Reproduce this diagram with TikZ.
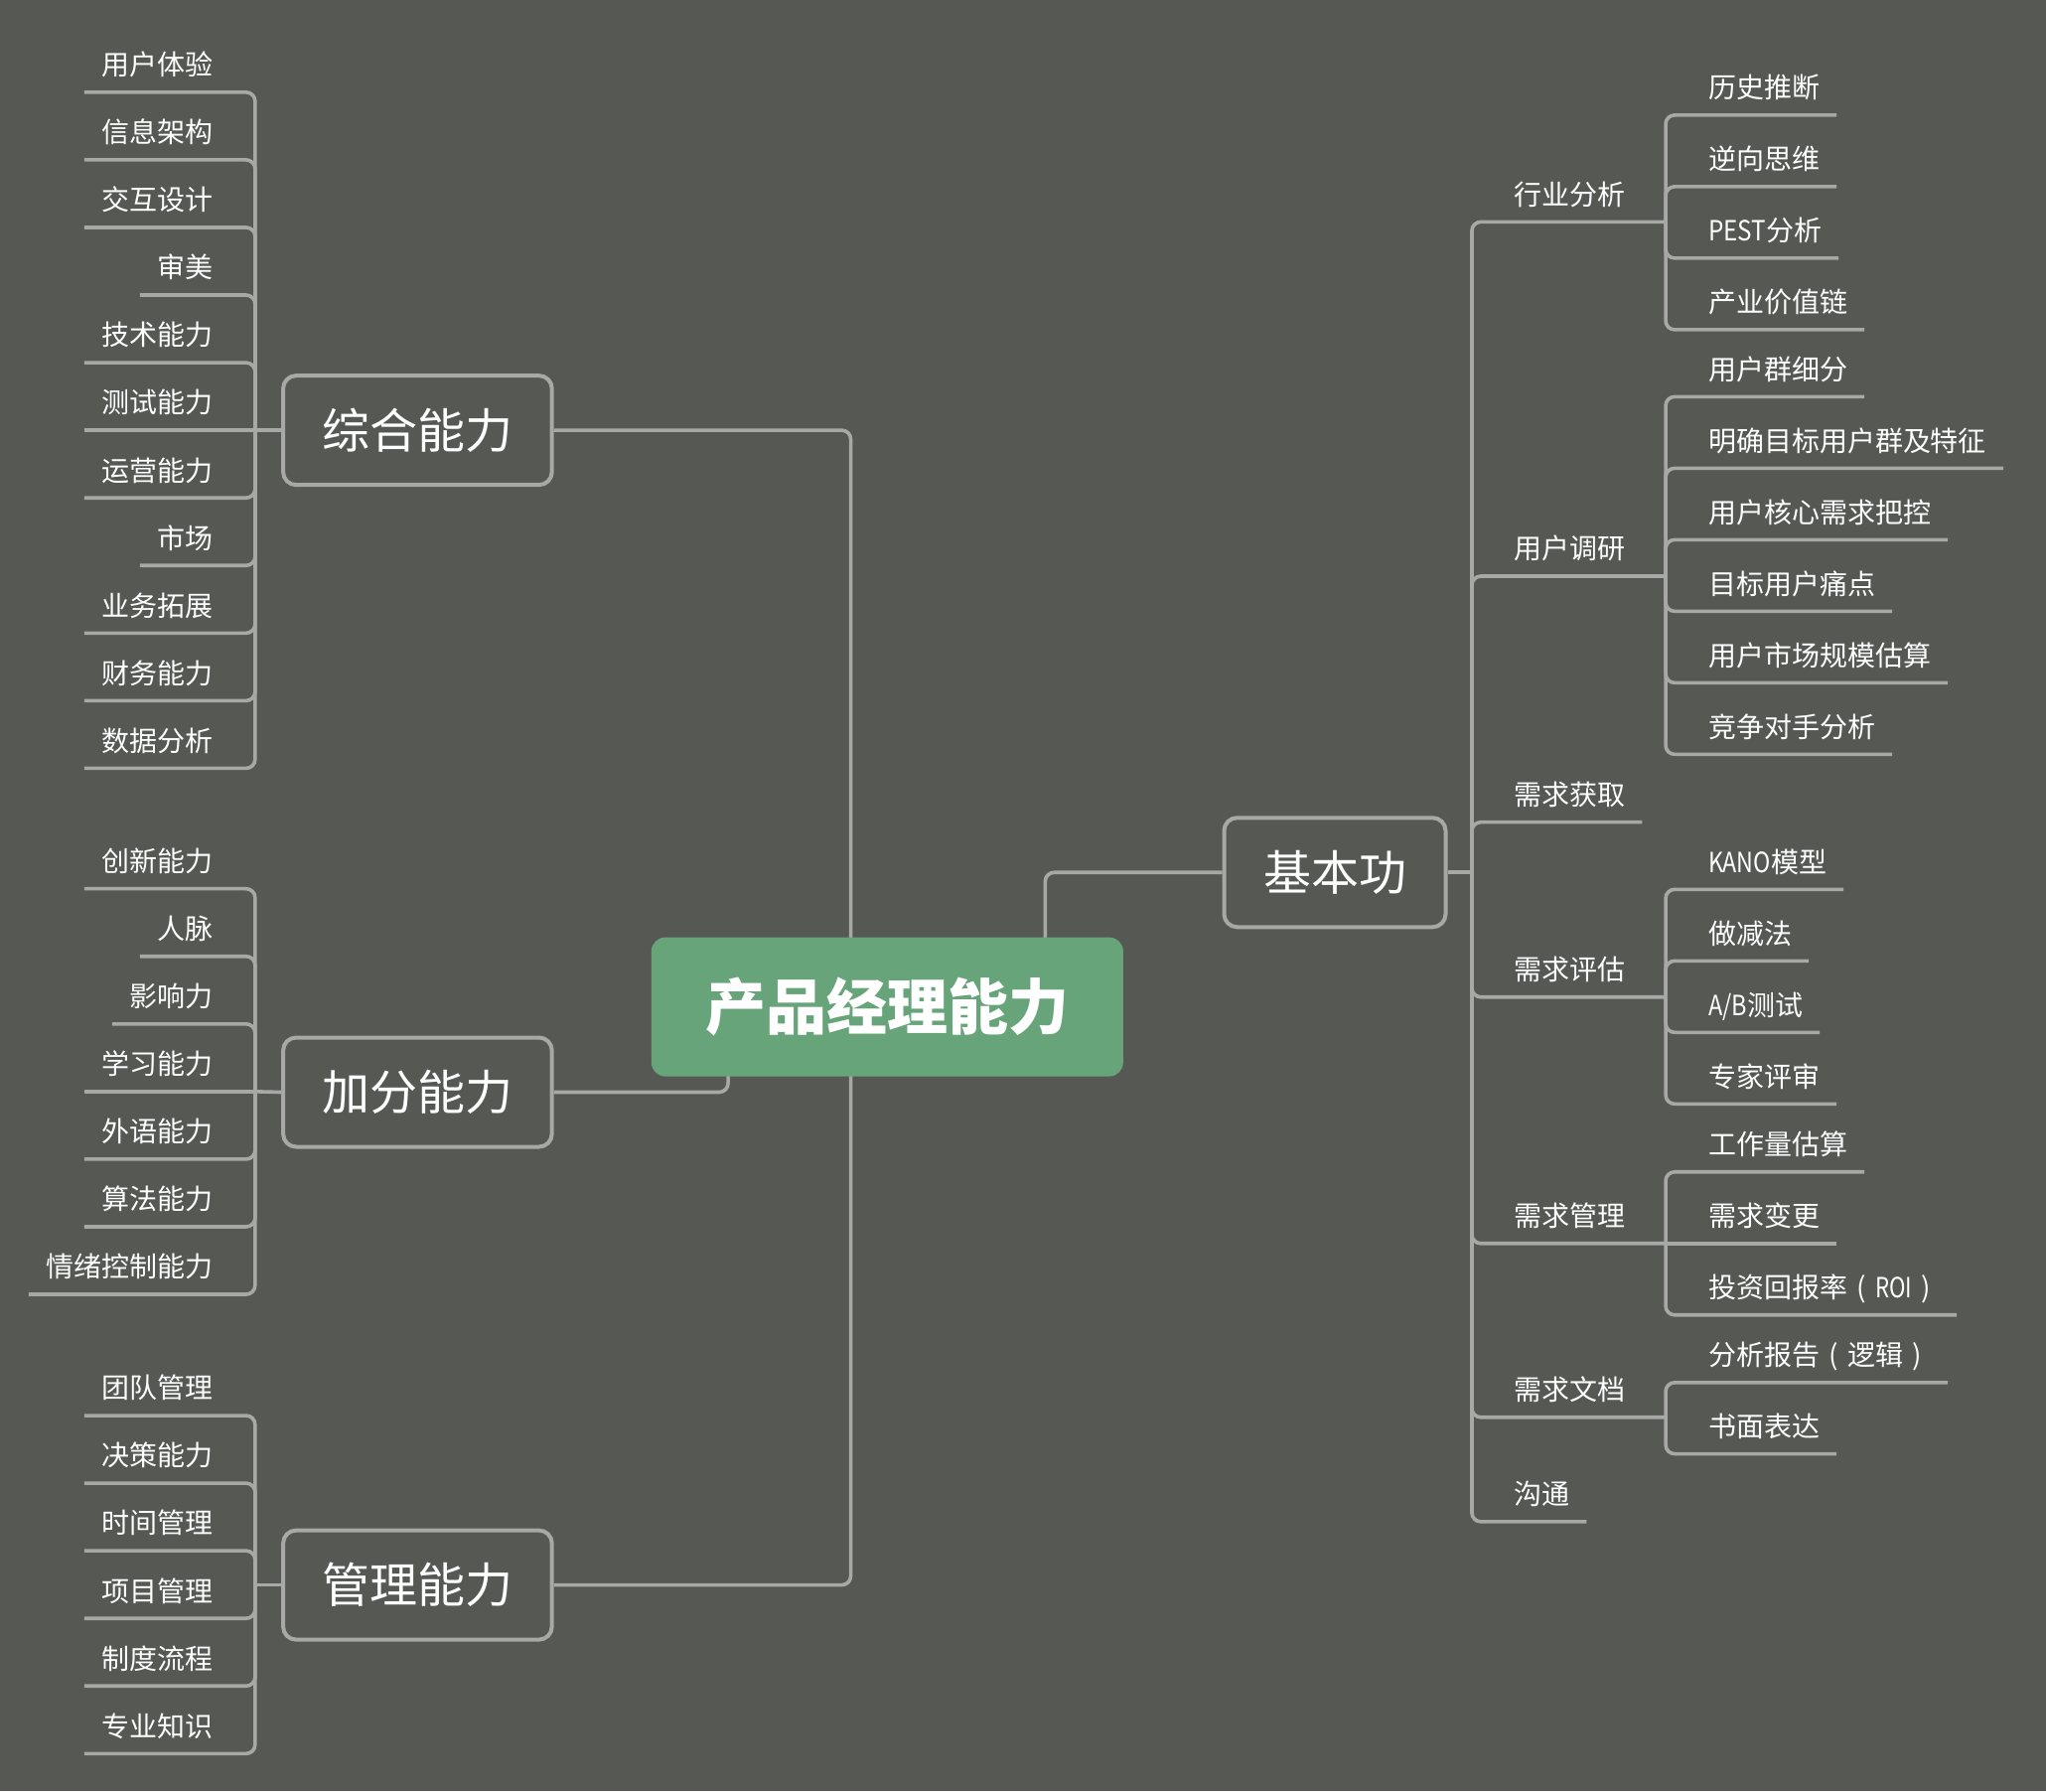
\documentclass[tikz,border=0pt]{standalone}
\usepackage{fontspec}
\usepackage{graphicx}
\setmainfont{Noto Sans CJK SC}
\usetikzlibrary{calc}
\definecolor{bgc}{RGB}{86,88,84}
\definecolor{linec}{RGB}{168,169,166}
\definecolor{rootc}{RGB}{103,164,122}
\definecolor{txt}{RGB}{255,255,255}
\pgfdeclarelayer{bg}
\pgfsetlayers{bg,main}
\newcommand{\fitw}[2]{\resizebox{#1}{\height}{#2}}
\newcommand{\cpar}[1]{\makebox[1em]{#1}}
\tikzset{
  conn/.style={draw=linec, line width=3.6pt, rounded corners=9pt},
  leaf/.style={font=\fontsize{28}{28}\selectfont, text=txt, inner xsep=17pt, inner ysep=0pt, text depth=17pt},
  leafR/.style={leaf, anchor=south west},
  leafL/.style={leaf, anchor=south east},
  box/.style={draw=linec, line width=4pt, rounded corners=13pt, font=\fontsize{48}{48}\selectfont, text=txt, minimum height=110pt, inner sep=0pt},
  rootbox/.style={fill=rootc, rounded corners=14pt, minimum width=475pt, minimum height=140pt, inner sep=0pt, font=\bfseries\fontsize{61}{61}\selectfont, text=txt}
}
\begin{document}
\begin{tikzpicture}[x=1.3138pt,y=-1.3138pt]
\begin{pgfonlayer}{bg}
\fill[bgc] (0,0) rectangle (1568,1372.4);
\end{pgfonlayer}
\useasboundingbox (0,0) rectangle (1568,1372.4);

% main nodes
\node[rootbox] (root) at (680,771.5) {产品经理能力};
\node[box, minimum width=270.6pt] (zh) at (320,329.7) {综合能力};
\node[box, minimum width=270.6pt] (jf) at (320,836.9) {加分能力};
\node[box, minimum width=270.6pt] (gl) at (320,1214.5) {管理能力};
\node[box, minimum width=223pt] (jb) at (1023,668.5) {基本功};

% junctions
\coordinate (zhJ) at (195.5,329.7);
\coordinate (jfJ) at (195.5,836.4);
\coordinate (glJ) at (195.5,1214.5);
\coordinate (jbJ) at (1128,668.5);
\coordinate (hyJ) at (1276.5,170);
\coordinate (yhJ) at (1276.5,441.5);
\coordinate (pgJ) at (1276.5,764);
\coordinate (qgJ) at (1276.5,952.8);
\coordinate (wdJ) at (1276.5,1086);

% left: 综合能力
\node[leafL] (l1) at (176,70.7) {用户体验};
\node[leafL] (l2) at (176,122.5) {信息架构};
\node[leafL] (l3) at (176,174.3) {交互设计};
\node[leafL] (l4) at (176,226.1) {审美};
\node[leafL] (l5) at (176,277.9) {技术能力};
\node[leafL] (l6) at (176,329.7) {测试能力};
\node[leafL] (l7) at (176,381.5) {运营能力};
\node[leafL] (l8) at (176,433.3) {市场};
\node[leafL] (l9) at (176,485.1) {业务拓展};
\node[leafL] (l10) at (176,536.9) {财务能力};
\node[leafL] (l11) at (176,588.7) {数据分析};

% left: 加分能力
\node[leafL] (a1) at (176,681) {创新能力};
\node[leafL] (a2) at (176,732.8) {人脉};
\node[leafL] (a3) at (176,784.6) {影响力};
\node[leafL] (a4) at (176,836.4) {学习能力};
\node[leafL] (a5) at (176,888.2) {外语能力};
\node[leafL] (a6) at (176,940) {算法能力};
\node[leafL] (a7) at (176,991.8) {情绪控制能力};

% left: 管理能力
\node[leafL] (m1) at (176,1084.7) {团队管理};
\node[leafL] (m2) at (176,1136.5) {决策能力};
\node[leafL] (m3) at (176,1188.3) {时间管理};
\node[leafL] (m4) at (176,1240.1) {项目管理};
\node[leafL] (m5) at (176,1291.9) {制度流程};
\node[leafL] (m6) at (176,1343.7) {专业知识};

% right level 1
\node[leafR] (r1) at (1147,170) {行业分析};
\node[leafR] (r2) at (1147,441.5) {用户调研};
\node[leafR] (r3) at (1147,630) {需求获取};
\node[leafR] (r4) at (1147,764) {需求评估};
\node[leafR] (r5) at (1147,952.8) {需求管理};
\node[leafR] (r6) at (1147,1086) {需求文档};
\node[leafR] (r7) at (1147,1166) {沟通};

% right level 2
\node[leafR] (h1) at (1296.1,88.2) {历史推断};
\node[leafR] (h2) at (1296.1,143) {逆向思维};
\node[leafR] (h3) at (1296.1,197.8) {\fitw{58pt}{PEST}分析};
\node[leafR] (h4) at (1296.1,252.6) {产业价值链};

\node[leafR] (u1) at (1296.1,304) {用户群细分};
\node[leafR] (u2) at (1296.1,358.8) {明确目标用户群及特征};
\node[leafR] (u3) at (1296.1,413.6) {用户核心需求把控};
\node[leafR] (u4) at (1296.1,468.4) {目标用户痛点};
\node[leafR] (u5) at (1296.1,523.2) {用户市场规模估算};
\node[leafR] (u6) at (1296.1,578) {竞争对手分析};

\node[leafR] (p1) at (1296.1,681.5) {\fitw{63pt}{KANO}模型};
\node[leafR] (p2) at (1296.1,736.3) {做减法};
\node[leafR] (p3) at (1296.1,791.1) {\fitw{39pt}{A/B}测试};
\node[leafR] (p4) at (1296.1,845.9) {专家评审};

\node[leafR] (g1) at (1296.1,898) {工作量估算};
\node[leafR] (g2) at (1296.1,952.8) {需求变更};
\node[leafR] (g3) at (1296.1,1007.6) {投资回报率\cpar{(}\fitw{37pt}{ROI}\cpar{)}};

\node[leafR] (w1) at (1296.1,1059.4) {分析报告\cpar{(}逻辑\cpar{)}};
\node[leafR] (w2) at (1296.1,1114) {书面表达};

\begin{pgfonlayer}{bg}
% root connectors
\draw[conn] ($(root.center)+(-28,0)$) |- (zh.east);
\draw[conn] ($(root.center)+(-28,0)$) |- (gl.east);
\draw[conn] ($(root.center)+(-122,0)$) |- (jf.east);
\draw[conn] ($(root.center)+(121,0)$) |- (jb.west);

% 综合能力
\draw[conn] (zh.west) -- (zhJ);
\foreach \n in {l1,l2,l3,l4,l5,l7,l8,l9,l10,l11} \draw[conn] (zhJ) |- (\n.south west);
\draw[conn] (zhJ) -- (l6.south west);
% 加分能力
\draw[conn] (jf.west) -- (jfJ);
\foreach \n in {a1,a2,a3,a5,a6,a7} \draw[conn] (jfJ) |- (\n.south west);
\draw[conn] (jfJ) -- (a4.south west);
% 管理能力
\draw[conn] (gl.west) -- (glJ);
\foreach \n in {m1,m2,m3,m4,m5,m6} \draw[conn] (glJ) |- (\n.south west);

% 基本功
\draw[conn] (jb.east) -- (jbJ);
\draw[conn] (jbJ) |- (hyJ);
\draw[conn] (jbJ) |- (yhJ);
\draw[conn] (jbJ) |- (r3.south east);
\draw[conn] (jbJ) |- (pgJ);
\draw[conn] (jbJ) |- (qgJ);
\draw[conn] (jbJ) |- (wdJ);
\draw[conn] (jbJ) |- (r7.south east);

\foreach \n in {h1,h2,h3,h4} \draw[conn] (hyJ) |- (\n.south east);
\foreach \n in {u1,u2,u3,u4,u5,u6} \draw[conn] (yhJ) |- (\n.south east);
\foreach \n in {p1,p2,p3,p4} \draw[conn] (pgJ) |- (\n.south east);
\foreach \n in {g1,g3} \draw[conn] (qgJ) |- (\n.south east);
\draw[conn] (qgJ) -- (g2.south east);
\foreach \n in {w1,w2} \draw[conn] (wdJ) |- (\n.south east);
\end{pgfonlayer}
\end{tikzpicture}
\end{document}
